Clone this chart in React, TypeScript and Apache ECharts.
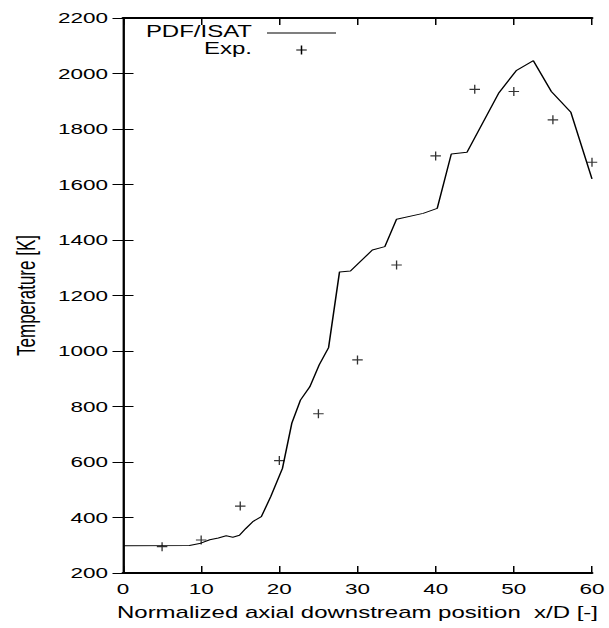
import React, { useEffect, useRef } from "react";
import * as echarts from "echarts";

// PDF/ISAT simulation: axial position x/D and temperature [K]
const simX = [0, 8.5, 9.8, 11.1, 12.2, 13.2, 14.05, 14.9, 15.7, 16.6, 17.7, 18.9, 20.4, 21.6, 22.7, 23.9, 25.1, 26.3, 27.7, 29.1, 31.9, 33.5, 35.0, 38.4, 40.2, 42.0, 44.0, 48.1, 50.3, 52.5, 54.8, 57.3, 60];
const simT = [298, 299, 306, 320, 326, 334, 329, 336, 360, 385, 403, 475, 577, 740, 823, 871, 950, 1012, 1285, 1288, 1364, 1376, 1475, 1496, 1514, 1710, 1716, 1931, 2010, 2046, 1935, 1860, 1620];

// Measured temperatures
const expX = [5, 10, 15, 20, 25, 30, 35, 40, 45, 50, 55, 60];
const expT = [295, 319, 441, 605, 774, 968, 1310, 1703, 1943, 1935, 1833, 1680];

const legendNames = ["PDF/ISAT", "Exp."];

// The figure is laid out in a narrower frame and widened horizontally.
const STRETCH = 1.5;
const PAGE_W = 609;
const PAGE_H = 628;
const FONT = "'Liberation Sans', Arial, Helvetica, sans-serif";
const PLUS = "path://M0,5L10,5M5,0L5,10";
const plain = (v: number) => String(v);

export default function App() {
  const ref = useRef<HTMLDivElement>(null);

  useEffect(() => {
    if (!ref.current) return;
    const chart = echarts.init(ref.current, null, { renderer: "svg" });

    const axisCommon = {
      axisLine: { show: true, lineStyle: { color: "#000" } },
      axisTick: { show: true, inside: true, length: 7, lineStyle: { color: "#000", width: 1 } },
      splitLine: { show: false },
    };

    chart.setOption({
      animation: false,
      backgroundColor: "#fff",
      textStyle: { fontFamily: FONT },
      grid: { left: 82, right: 10, top: 18, bottom: 55 },
      xAxis: [
        {
          ...axisCommon,
          type: "value",
          min: 0,
          max: 60,
          interval: 10,
          axisLine: { show: true, lineStyle: { color: "#000", width: 2 } },
          axisLabel: { color: "#000", fontSize: 15, margin: 8, fontFamily: FONT, formatter: plain },
          name: "Normalized axial downstream position  x/D [-]",
          nameLocation: "middle",
          nameGap: 32,
          nameTextStyle: { color: "#000", fontSize: 16, fontFamily: FONT },
        },
        {
          ...axisCommon,
          type: "value",
          position: "top",
          min: 0,
          max: 60,
          interval: 10,
          axisLine: { show: true, lineStyle: { color: "#000", width: 2 } },
          axisLabel: { show: false },
        },
      ],
      yAxis: [
        {
          ...axisCommon,
          type: "value",
          min: 200,
          max: 2200,
          interval: 200,
          axisLine: { show: true, lineStyle: { color: "#000", width: 1.3 } },
          axisLabel: { color: "#000", fontSize: 15, margin: 10, fontFamily: FONT, formatter: plain },
          name: "Temperature [K]",
          nameLocation: "middle",
          nameRotate: 90,
          nameGap: 56,
          nameTextStyle: { color: "#000", fontSize: 17, fontFamily: FONT },
        },
        {
          ...axisCommon,
          type: "value",
          position: "right",
          min: 200,
          max: 2200,
          interval: 200,
          axisLine: { show: true, lineStyle: { color: "#000", width: 1.3 } },
          axisLabel: { show: false },
        },
      ],
      series: [
        {
          name: legendNames[0],
          type: "line",
          data: simX.map((x, i) => [x, simT[i]]),
          showSymbol: false,
          symbol: "none",
          lineStyle: { color: "#000", width: 1 },
          clip: true,
        },
        {
          name: legendNames[1],
          type: "scatter",
          data: expX.map((x, i) => [x, expT[i]]),
          symbol: PLUS,
          symbolSize: [7, 9],
          itemStyle: { color: "#000", borderColor: "#000", borderWidth: 1 },
          clip: false,
        },
      ],
      graphic: [
        {
          type: "text",
          x: 168,
          y: 32,
          style: { text: legendNames[0], font: `16px ${FONT}`, fill: "#000", align: "right", verticalAlign: "middle" },
        },
        {
          type: "line",
          shape: { x1: 178, y1: 33, x2: 224, y2: 33 },
          style: { stroke: "#000", lineWidth: 1 },
        },
        {
          type: "text",
          x: 168,
          y: 49,
          style: { text: legendNames[1], font: `16px ${FONT}`, fill: "#000", align: "right", verticalAlign: "middle" },
        },
        {
          type: "line",
          shape: { x1: 197.5, y1: 50, x2: 204.5, y2: 50 },
          style: { stroke: "#000", lineWidth: 1 },
        },
        {
          type: "line",
          shape: { x1: 201, y1: 45.5, x2: 201, y2: 54.5 },
          style: { stroke: "#000", lineWidth: 1 },
        },
      ],
    });

    return () => chart.dispose();
  }, []);

  return (
    <div
      ref={ref}
      style={{
        position: "fixed",
        left: 0,
        top: 0,
        width: PAGE_W / STRETCH,
        height: PAGE_H,
        transform: `scaleX(${STRETCH})`,
        transformOrigin: "0 0",
        background: "#fff",
      }}
    />
  );
}
